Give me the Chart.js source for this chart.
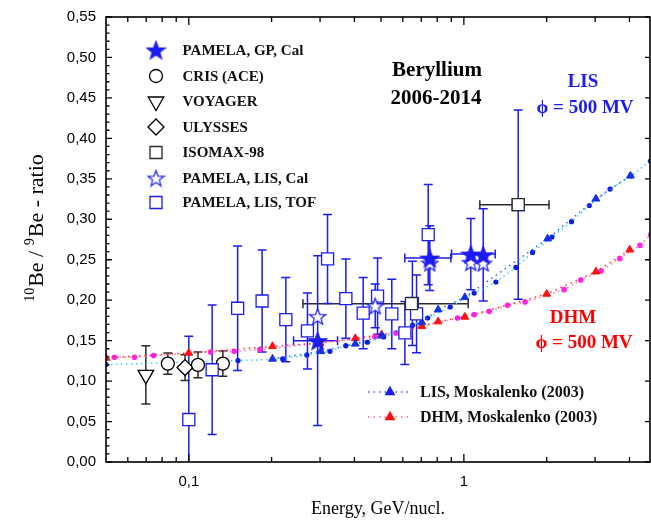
<!DOCTYPE html>
<html lang="en">
<head>
<meta charset="UTF-8">
<title>Beryllium 2006-2014</title>
<script src="https://cdn.jsdelivr.net/npm/chart.js"></script>
<style>
  html, body { margin: 0; padding: 0; background: #fff; }
  #wrap { width: 651px; height: 522px; }
</style>
</head>
<body>
<div id="wrap"><canvas id="beChart" width="651" height="522"></canvas></div>
<script>
// PAMELA, LIS, TOF (open blue squares)
const tofEnergy = [0.100, 0.1216, 0.1505, 0.1847, 0.2253, 0.270, 0.3195, 0.3724, 0.4305, 0.4855, 0.547, 0.6104, 0.650, 0.673, 0.742, 1.576];
const tofRatio  = [0.0525, 0.114, 0.190, 0.199, 0.176, 0.162, 0.251, 0.202, 0.184, 0.205, 0.183, 0.1595, 0.196, 0.183, 0.281, 0.318];
const tofErr    = [0.103, 0.080, 0.077, 0.063, 0.052, 0.047, 0.055, 0.049, 0.044, 0.047, 0.043, 0.039, 0.052, 0.048, 0.062, 0.117];

// PAMELA, GP, Cal (filled stars)
const gpEnergy   = [0.294, 0.752, 1.06, 1.176];
const gpRatio    = [0.150, 0.252, 0.257, 0.256];
const gpErr      = [0.105, 0.040, 0.044, 0.057];
const gpEnergyLo = [0.2404, 0.61, 0.902, null];
const gpEnergyHi = [0.3474, 0.897, 1.30, null];

// PAMELA, LIS, Cal (open stars)
const lisCalEnergy = [0.294, 0.476, 0.752, 1.06, 1.176];
const lisCalRatio  = [0.180, 0.193, 0.246, 0.2467, 0.246];
const lisCalErr    = [0, 0.027, 0, 0, 0];

// ISOMAX-98
const isoEnergy   = [0.645, 1.576];
const isoRatio    = [0.1957, 0.318];
const isoEnergyLo = [0.26, 1.143];
const isoEnergyHi = [1.037, 2.04];

// CRIS (ACE)
const crisEnergy = [0.0839, 0.108, 0.133];
const crisRatio  = [0.1216, 0.120, 0.1216];
const crisErr    = [0.013, 0.016, 0.0155];

// ULYSSES
const ulyEnergy = [0.0969];
const ulyRatio  = [0.1167];
const ulyErr    = [0.016];

// VOYAGER
const voyEnergy = [0.0698];
const voyRatio  = [0.1077];
const voyErr    = [0.036];

// LIS, Moskalenko (2003)
const lisDotEnergy = [0.05, 0.151, 0.2195, 0.2685, 0.326, 0.372, 0.446, 0.511, 0.651, 0.738, 0.892, 1.09, 1.307, 1.546, 1.777, 2.089, 2.462, 2.857, 3.40, 4.05, 4.76];
const lisDotRatio  = [0.1204, 0.1253, 0.1274, 0.1323, 0.1368, 0.1438, 0.148, 0.1546, 0.169, 0.178, 0.1916, 0.2088, 0.2225, 0.2405, 0.259, 0.278, 0.297, 0.317, 0.3373, 0.3537, 0.372];
const lisTriEnergy = [0.2015, 0.302, 0.403, 0.503, 0.703, 0.806, 1.008, 2.016, 3.02, 4.03];
const lisTriRatio  = [0.1274, 0.1368, 0.146, 0.156, 0.1726, 0.1883, 0.2035, 0.276, 0.3253, 0.3537];

// DHM, Moskalenko (2003)
const dhmDotEnergy = [0.0537, 0.0635, 0.0745, 0.12, 0.1464, 0.1814, 0.298, 0.475, 0.566, 0.949, 1.09, 1.236, 1.442, 1.67, 2.315, 2.66, 3.15, 3.69, 4.37, 4.78];
const dhmDotRatio  = [0.1294, 0.1294, 0.1315, 0.136, 0.1368, 0.1389, 0.147, 0.1546, 0.1595, 0.178, 0.1821, 0.1862, 0.1936, 0.1978, 0.213, 0.225, 0.236, 0.2516, 0.2677, 0.281];
const dhmTriEnergy = [0.05, 0.1, 0.2015, 0.3, 0.403, 0.502, 0.703, 0.806, 1.008, 2.0, 3.02, 4.01];
const dhmTriRatio  = [0.1286, 0.1348, 0.143, 0.147, 0.1528, 0.1574, 0.1677, 0.1735, 0.1793, 0.2077, 0.2352, 0.2623];

// axis ticks
const xTickValues = [0.1, 1];
const xTickLabels = ['0,1', '1'];
const xMinorTicks = [0.06, 0.07, 0.08, 0.09, 0.2, 0.3, 0.4, 0.5, 0.6, 0.7, 0.8, 0.9, 2, 3, 4];

const BLUE = '#1c1cf2';
const DARK = '#2b2b2b';

const pts = (xs, ys) => xs.map((v, i) => ({ x: v, y: ys[i] }));

function makeStar(size, fill, stroke) {
  const c = document.createElement('canvas');
  c.width = c.height = size;
  const g = c.getContext('2d');
  const cx = size / 2, cy = size / 2 + size * 0.05;
  const R = size / 2 - 1, r = R * 0.42;
  g.beginPath();
  for (let i = 0; i < 10; i++) {
    const a = -Math.PI / 2 + i * Math.PI / 5;
    const rr = i % 2 ? r : R;
    g.lineTo(cx + rr * Math.cos(a), cy + rr * Math.sin(a));
  }
  g.closePath();
  g.fillStyle = fill;
  g.fill();
  g.strokeStyle = stroke;
  g.lineWidth = 1.2;
  g.stroke();
  return c;
}
const starFilled = makeStar(21, BLUE, BLUE);
const starOpen = makeStar(19, '#ffffff', BLUE);

// vertical / horizontal error bars, drawn under the markers
const errorBars = {
  id: 'errorBars',
  beforeDatasetsDraw(chart) {
    const { ctx, chartArea: a, scales: { x, y } } = chart;
    ctx.save();
    ctx.beginPath();
    ctx.rect(a.left, a.top, a.right - a.left, a.bottom - a.top);
    ctx.clip();
    chart.data.datasets.forEach(ds => {
      if (!ds.errY && !ds.errXLo) return;
      ds.data.forEach((p, i) => {
        const px = x.getPixelForValue(p.x);
        const py = y.getPixelForValue(p.y);
        if (ds.errY && ds.errY[i]) {
          const t = y.getPixelForValue(p.y + ds.errY[i]);
          const b = y.getPixelForValue(p.y - ds.errY[i]);
          ctx.strokeStyle = ds.errColor;
          ctx.lineWidth = 1.5;
          ctx.beginPath();
          ctx.moveTo(px, t); ctx.lineTo(px, b);
          ctx.moveTo(px - 4.5, t); ctx.lineTo(px + 4.5, t);
          ctx.moveTo(px - 4.5, b); ctx.lineTo(px + 4.5, b);
          ctx.stroke();
        }
        if (ds.errXLo && ds.errXLo[i] != null) {
          const l = x.getPixelForValue(ds.errXLo[i]);
          const r = x.getPixelForValue(ds.errXHi[i]);
          ctx.strokeStyle = ds.errXColor || ds.errColor;
          ctx.lineWidth = 1.5;
          ctx.beginPath();
          ctx.moveTo(l, py); ctx.lineTo(r, py);
          ctx.moveTo(l, py - 4.5); ctx.lineTo(l, py + 4.5);
          ctx.moveTo(r, py - 4.5); ctx.lineTo(r, py + 4.5);
          ctx.stroke();
        }
      });
    });
    ctx.restore();
  }
};

// box frame with inward ticks on all four sides, plus the energy tick labels
const frame = {
  id: 'frame',
  afterDatasetsDraw(chart) {
    const { ctx, chartArea: a, scales: { x, y } } = chart;
    ctx.save();
    ctx.strokeStyle = '#000';
    ctx.lineWidth = 1.6;
    ctx.strokeRect(a.left, a.top, a.right - a.left, a.bottom - a.top);
    ctx.lineWidth = 1.3;
    ctx.beginPath();
    xTickValues.forEach(v => {
      const px = x.getPixelForValue(v);
      ctx.moveTo(px, a.bottom); ctx.lineTo(px, a.bottom - 8);
      ctx.moveTo(px, a.top); ctx.lineTo(px, a.top + 8);
    });
    xMinorTicks.forEach(v => {
      const px = x.getPixelForValue(v);
      ctx.moveTo(px, a.bottom); ctx.lineTo(px, a.bottom - 5);
      ctx.moveTo(px, a.top); ctx.lineTo(px, a.top + 5);
    });
    for (let k = 0; k <= 55; k++) {
      const py = y.getPixelForValue(k / 100);
      const len = k % 5 === 0 ? 6 : 3.5;
      ctx.moveTo(a.left, py); ctx.lineTo(a.left + len, py);
      if (k % 5 === 0) { ctx.moveTo(a.right, py); ctx.lineTo(a.right - 5, py); }
    }
    ctx.stroke();

    ctx.fillStyle = '#000';
    ctx.font = '15px "Liberation Sans", Arial, sans-serif';
    ctx.textAlign = 'center';
    ctx.textBaseline = 'middle';
    xTickValues.forEach((v, i) => ctx.fillText(xTickLabels[i], x.getPixelForValue(v), a.bottom + 20));
    ctx.restore();
  }
};

function marker(ctx, style, x, y, r, fill, stroke) {
  ctx.save();
  ctx.fillStyle = fill;
  ctx.strokeStyle = stroke;
  ctx.lineWidth = 1.3;
  ctx.beginPath();
  if (style === 'circle') {
    ctx.arc(x, y, r, 0, Math.PI * 2);
  } else if (style === 'rect') {
    const s = r * Math.SQRT1_2;
    ctx.rect(x - s, y - s, 2 * s, 2 * s);
  } else if (style === 'rectRot') {
    ctx.moveTo(x, y - r); ctx.lineTo(x + r, y); ctx.lineTo(x, y + r); ctx.lineTo(x - r, y); ctx.closePath();
  } else if (style === 'triDown') {
    ctx.moveTo(x, y + r);
    ctx.lineTo(x - r * 0.866, y - r / 2);
    ctx.lineTo(x + r * 0.866, y - r / 2);
    ctx.closePath();
  } else if (style === 'tri') {
    ctx.moveTo(x, y - r);
    ctx.lineTo(x + r * 0.866, y + r / 2);
    ctx.lineTo(x - r * 0.866, y + r / 2);
    ctx.closePath();
  }
  ctx.fill();
  ctx.stroke();
  ctx.restore();
}

// legends, labels and axis titles
const annotations = {
  id: 'annotations',
  afterDraw(chart) {
    const { ctx, chartArea: a } = chart;
    ctx.save();
    ctx.textBaseline = 'middle';

    // data legend, top left
    const rows = [
      ['starF', 'PAMELA, GP, Cal', 50],
      ['circle', 'CRIS (ACE)', 76],
      ['triDown', 'VOYAGER', 101.5],
      ['rectRot', 'ULYSSES', 127],
      ['isoRect', 'ISOMAX-98', 152.5],
      ['starO', 'PAMELA, LIS, Cal', 178],
      ['tofRect', 'PAMELA, LIS, TOF', 202.5]
    ];
    rows.forEach(([m, label, yy]) => {
      const mx = 156;
      if (m === 'starF') ctx.drawImage(starFilled, mx - starFilled.width / 2, yy - starFilled.height / 2);
      else if (m === 'starO') ctx.drawImage(starOpen, mx - starOpen.width / 2, yy - starOpen.height / 2);
      else if (m === 'circle') marker(ctx, 'circle', mx, yy, 6.5, '#fff', '#000');
      else if (m === 'triDown') marker(ctx, 'triDown', mx, yy, 9, '#fff', '#000');
      else if (m === 'rectRot') marker(ctx, 'rectRot', mx, yy, 8, '#fff', '#000');
      else if (m === 'isoRect') marker(ctx, 'rect', mx, yy, 8.5, '#fff', DARK);
      else if (m === 'tofRect') marker(ctx, 'rect', mx, yy, 8.5, '#fff', BLUE);
      ctx.fillStyle = '#111';
      ctx.font = 'bold 15px "Liberation Serif", "Times New Roman", serif';
      ctx.textAlign = 'left';
      ctx.fillText(label, 182.5, yy + 1);
    });

    // title block
    ctx.textAlign = 'center';
    ctx.fillStyle = '#000';
    ctx.font = 'bold 21px "Liberation Serif", serif';
    ctx.fillText('Beryllium', 437, 71);
    ctx.fillText('2006-2014', 436, 99);

    ctx.font = 'bold 19px "Liberation Serif", "DejaVu Serif", serif';
    ctx.fillStyle = BLUE;
    ctx.fillText('LIS', 583, 82);
    ctx.fillText('\u03d5 = 500 MV', 585, 108);
    ctx.fillStyle = '#ff0000';
    ctx.fillText('DHM', 573, 318);
    ctx.fillText('\u03d5 = 500 MV', 584, 343);

    // model legend, bottom right
    const modelRows = [
      ['#3a5cff', '#1c1cf2', 'LIS, Moskalenko (2003)', 392],
      ['#ff6a8a', '#ff1010', 'DHM, Moskalenko (2003)', 417]
    ];
    modelRows.forEach(([lc, mc, label, yy]) => {
      ctx.strokeStyle = lc;
      ctx.lineWidth = 1.5;
      ctx.setLineDash([1.5, 4]);
      ctx.beginPath();
      ctx.moveTo(368, yy); ctx.lineTo(411, yy);
      ctx.stroke();
      ctx.setLineDash([]);
      marker(ctx, 'tri', 390, yy, 5, mc, mc);
      ctx.fillStyle = '#111';
      ctx.font = 'bold 16px "Liberation Serif", serif';
      ctx.textAlign = 'left';
      ctx.fillText(label, 420, yy + 1);
    });

    // axis titles
    ctx.fillStyle = '#000';
    ctx.textAlign = 'center';
    ctx.font = '18px "Liberation Serif", serif';
    ctx.fillText('Energy, GeV/nucl.', (a.left + a.right) / 2, 509);

    const parts = [['10', true], ['Be / ', false], ['9', true], ['Be - ratio', false]];
    const big = '22px "Liberation Serif", serif', small = '14px "Liberation Serif", serif';
    let total = 0;
    parts.forEach(([t, sup]) => { ctx.font = sup ? small : big; total += ctx.measureText(t).width + (sup ? 1 : 0); });
    ctx.translate(37, 228);
    ctx.rotate(-Math.PI / 2);
    ctx.textAlign = 'left';
    let cx = -total / 2;
    parts.forEach(([t, sup]) => {
      ctx.font = sup ? small : big;
      ctx.fillText(t, cx, sup ? -7 : 0);
      cx += ctx.measureText(t).width + (sup ? 1 : 0);
    });
    ctx.restore();
  }
};

const modelLine = (color, dash) => ({ borderColor: color, borderWidth: 1.5, borderDash: dash, showLine: true });

new Chart(document.getElementById('beChart'), {
  type: 'scatter',
  data: {
    datasets: [
      {
        label: 'ISOMAX-98', data: pts(isoEnergy, isoRatio), order: 1,
        pointStyle: 'rect', pointRadius: 8.5, pointBackgroundColor: '#fff', pointBorderColor: DARK, pointBorderWidth: 1.3,
        errXLo: isoEnergyLo, errXHi: isoEnergyHi, errColor: DARK
      },
      {
        label: 'PAMELA, GP, Cal', data: pts(gpEnergy, gpRatio), order: 2,
        pointStyle: starFilled,
        errY: gpErr, errXLo: gpEnergyLo, errXHi: gpEnergyHi, errColor: BLUE
      },
      {
        label: 'PAMELA, LIS, Cal', data: pts(lisCalEnergy, lisCalRatio), order: 3,
        pointStyle: starOpen,
        errY: lisCalErr, errColor: BLUE
      },
      {
        label: 'PAMELA, LIS, TOF', data: pts(tofEnergy, tofRatio), order: 4,
        pointStyle: 'rect', pointRadius: 8.5, pointBackgroundColor: '#fff', pointBorderColor: BLUE, pointBorderWidth: 1.3,
        errY: tofErr, errColor: BLUE
      },
      {
        label: 'CRIS (ACE)', data: pts(crisEnergy, crisRatio), order: 5,
        pointStyle: 'circle', pointRadius: 6.5, pointBackgroundColor: '#fff', pointBorderColor: '#000', pointBorderWidth: 1.3,
        errY: crisErr, errColor: DARK
      },
      {
        label: 'ULYSSES', data: pts(ulyEnergy, ulyRatio), order: 6,
        pointStyle: 'rectRot', pointRadius: 8, pointBackgroundColor: '#fff', pointBorderColor: '#000', pointBorderWidth: 1.3,
        errY: ulyErr, errColor: DARK
      },
      {
        label: 'VOYAGER', data: pts(voyEnergy, voyRatio), order: 7,
        pointStyle: 'triangle', rotation: 180, pointRadius: 9, pointBackgroundColor: '#fff', pointBorderColor: '#000', pointBorderWidth: 1.3,
        errY: voyErr, errColor: DARK
      },
      Object.assign({
        label: 'LIS triangles', data: pts(lisTriEnergy, lisTriRatio), order: 8,
        pointStyle: 'triangle', pointRadius: 4.5, pointBackgroundColor: '#1530e6', pointBorderColor: '#1530e6', pointBorderWidth: 1
      }, modelLine('#3a5cff', [1.5, 4])),
      Object.assign({
        label: 'LIS', data: pts(lisDotEnergy, lisDotRatio), order: 9,
        pointStyle: 'circle', pointRadius: 2.6, pointBackgroundColor: '#0a1ee0', pointBorderColor: '#0a1ee0', pointBorderWidth: 0
      }, modelLine('#35d6f0', [1.5, 3.5])),
      Object.assign({
        label: 'DHM triangles', data: pts(dhmTriEnergy, dhmTriRatio), order: 10,
        pointStyle: 'triangle', pointRadius: 4.5, pointBackgroundColor: '#ff1010', pointBorderColor: '#ff1010', pointBorderWidth: 1
      }, modelLine('#ff3030', [1.5, 4])),
      Object.assign({
        label: 'DHM', data: pts(dhmDotEnergy, dhmDotRatio), order: 11,
        pointStyle: 'circle', pointRadius: 2.8, pointBackgroundColor: '#ff22ee', pointBorderColor: '#ff22ee', pointBorderWidth: 0
      }, modelLine('#ff70a8', [1.5, 3.5]))
    ]
  },
  options: {
    responsive: false,
    animation: false,
    devicePixelRatio: 1,
    layout: { autoPadding: false, padding: { top: 17, right: 1, left: 0, bottom: 0 } },
    plugins: { legend: { display: false }, tooltip: { enabled: false } },
    scales: {
      x: {
        type: 'logarithmic',
        bounds: 'data',
        min: 0.05,
        max: 4.75,
        grid: { display: false, drawTicks: false },
        border: { display: false },
        ticks: { display: false },
        afterFit: scale => { scale.height = 60; }
      },
      y: {
        min: 0,
        max: 0.55,
        grid: { display: false, drawTicks: false },
        border: { display: false },
        afterFit: scale => { scale.width = 106; scale.paddingTop = 0; scale.paddingBottom = 0; },
        ticks: {
          stepSize: 0.05,
          padding: 10,
          color: '#000',
          font: { family: '"Liberation Sans", Arial, sans-serif', size: 15 },
          callback: v => Number(v).toFixed(2).replace('.', ',')
        }
      }
    }
  },
  plugins: [errorBars, frame, annotations]
});
</script>
</body>
</html>
